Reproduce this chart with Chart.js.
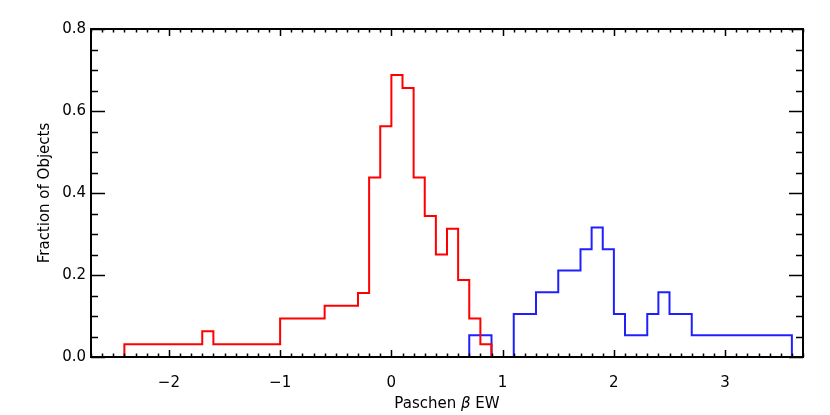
<!DOCTYPE html>
<html>
<head>
<meta charset="utf-8">
<script src="https://cdn.jsdelivr.net/npm/chart.js@4"></script>
<style>
  html, body { margin: 0; padding: 0; background: #fff; }
  #wrap { width: 830px; height: 415px; }
</style>
</head>
<body>
<div id="wrap"><canvas id="histChart" width="830" height="415"></canvas></div>
<script>
// bin edges and fractions
const redEdges = [-2.4, -1.7, -1.6, -1.0, -0.6, -0.3, -0.2, -0.1, 0.0, 0.1, 0.2, 0.3, 0.4, 0.5, 0.6, 0.7, 0.8, 0.9];
const redValues = [0.031, 0.063, 0.031, 0.094, 0.125, 0.156, 0.438, 0.563, 0.688, 0.656, 0.438, 0.344, 0.25, 0.313, 0.188, 0.094, 0.031];
const blueEdges = [0.7, 0.9, 1.1, 1.3, 1.5, 1.7, 1.8, 1.9, 2.0, 2.1, 2.3, 2.4, 2.5, 2.7, 3.6];
const blueValues = [0.053, 0, 0.105, 0.158, 0.211, 0.263, 0.316, 0.263, 0.105, 0.053, 0.105, 0.158, 0.105, 0.053];
const xTicks = [-2, -1, 0, 1, 2, 3];
const yTicks = [0.0, 0.2, 0.4, 0.6, 0.8];

const FONT = "'DejaVu Sans', 'Liberation Sans', sans-serif";

// turn bins into a step outline, leaving gaps where a bin is empty
function steps(edges, values) {
  const pts = [{ x: edges[0], y: 0 }];
  values.forEach((v, i) => {
    if (v === 0) {
      pts.push({ x: edges[i], y: 0 }, { x: edges[i], y: null }, { x: edges[i + 1], y: 0 });
    } else {
      pts.push({ x: edges[i], y: v }, { x: edges[i + 1], y: v });
    }
  });
  pts.push({ x: edges[edges.length - 1], y: 0 });
  return pts;
}

// box with inward ticks on all four sides, like the original plot
const frame = {
  id: 'frame',
  afterDraw(chart) {
    const { ctx, chartArea: a, scales: { x, y } } = chart;
    ctx.save();
    ctx.strokeStyle = '#000';
    ctx.lineWidth = 2;
    ctx.strokeRect(a.left, a.top, a.right - a.left, a.bottom - a.top);
    ctx.lineWidth = 1.5;
    ctx.beginPath();
    for (let i = -27; i <= 37; i++) {
      const px = Math.round(x.getPixelForValue(i / 10)) + 0.5;
      const len = i % 10 === 0 ? 7 : 3.5;
      ctx.moveTo(px, a.bottom); ctx.lineTo(px, a.bottom - len);
      ctx.moveTo(px, a.top); ctx.lineTo(px, a.top + len);
    }
    for (let j = 0; j <= 16; j++) {
      const py = Math.round(y.getPixelForValue(j * 0.05)) + 0.5;
      const len = j % 4 === 0 ? 14 : 7;
      ctx.moveTo(a.left, py); ctx.lineTo(a.left + len, py);
      ctx.moveTo(a.right, py); ctx.lineTo(a.right - len, py);
    }
    ctx.stroke();

    ctx.fillStyle = '#000';
    ctx.textBaseline = 'middle';

    // y title
    ctx.save();
    ctx.translate(45, (a.top + a.bottom) / 2);
    ctx.rotate(-Math.PI / 2);
    ctx.textAlign = 'center';
    ctx.font = '15px ' + FONT;
    ctx.fillText('Fraction of Objects', 0, 0);
    ctx.restore();

    // x title with italic beta
    const parts = [['Paschen ', '15px ' + FONT], ['\u03B2', 'italic 15px ' + FONT], [' EW', '15px ' + FONT]];
    let w = 0;
    parts.forEach(p => { ctx.font = p[1]; w += ctx.measureText(p[0]).width; });
    let cx = (a.left + a.right) / 2 - w / 2;
    ctx.textAlign = 'left';
    parts.forEach(p => {
      ctx.font = p[1];
      ctx.fillText(p[0], cx, 404);
      cx += ctx.measureText(p[0]).width;
    });
    ctx.restore();
  }
};

new Chart(document.getElementById('histChart'), {
  type: 'line',
  data: {
    datasets: [
      {
        label: 'red',
        data: steps(redEdges, redValues),
        borderColor: '#ff0000',
        borderWidth: 2,
        pointRadius: 0,
        tension: 0,
        spanGaps: false
      },
      {
        label: 'blue',
        data: steps(blueEdges, blueValues),
        borderColor: '#2020ff',
        borderWidth: 2,
        pointRadius: 0,
        tension: 0,
        spanGaps: false
      }
    ]
  },
  options: {
    responsive: false,
    animation: false,
    layout: { padding: { left: 0, right: 27, top: 29, bottom: 0 } },
    plugins: { legend: { display: false }, tooltip: { enabled: false } },
    scales: {
      x: {
        type: 'linear',
        min: -2.7,
        max: 3.7,
        afterFit: s => { s.height = 58; },
        afterBuildTicks: s => { s.ticks = xTicks.map(v => ({ value: v })); },
        grid: { display: false, drawTicks: false },
        border: { display: false },
        ticks: {
          autoSkip: false,
          maxRotation: 0,
          padding: 17,
          color: '#000',
          font: { family: FONT, size: 15 },
          callback: v => (v < 0 ? '\u2212' + Math.abs(v) : String(v))
        }
      },
      y: {
        min: 0,
        max: 0.8,
        afterFit: s => { s.width = 91; },
        afterBuildTicks: s => { s.ticks = yTicks.map(v => ({ value: v })); },
        grid: { display: false, drawTicks: false },
        border: { display: false },
        ticks: {
          padding: 5,
          color: '#000',
          font: { family: FONT, size: 15 },
          callback: v => v.toFixed(1)
        }
      }
    }
  },
  plugins: [frame]
});
</script>
</body>
</html>
